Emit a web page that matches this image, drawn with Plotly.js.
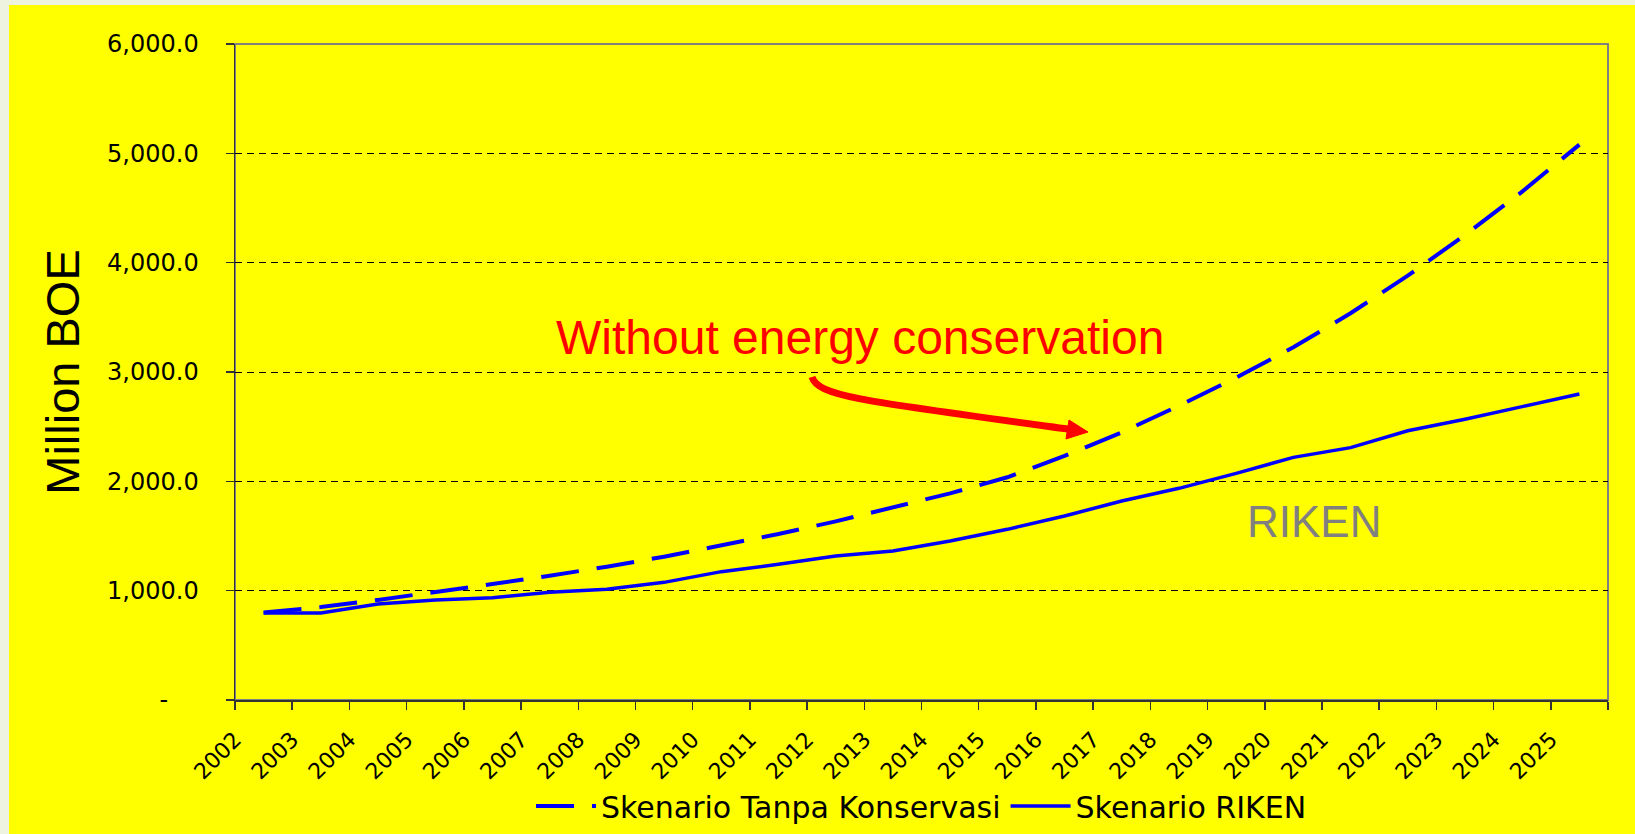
<!DOCTYPE html>
<html>
<head>
<meta charset="utf-8">
<script src="https://cdn.plot.ly/plotly-3.0.1.min.js"></script>
<style>
html,body{margin:0;padding:0;background:#eef3df;}
#chart{width:1635px;height:834px;}
</style>
</head>
<body>
<div id="chart"></div>
<script>
// ---- data ----
const years = [2002,2003,2004,2005,2006,2007,2008,2009,2010,2011,2012,2013,2014,2015,2016,2017,2018,2019,2020,2021,2022,2023,2024,2025];
const tanpaKonservasi = [800,850,915,985,1061,1137,1219,1311,1415,1518,1634,1759,1890,2037,2232,2448,2692,2948,3226,3537,3881,4253,4650,5080];
const riken = [796,796,878,915,936,985,1012,1076,1174,1241,1317,1363,1454,1561,1683,1820,1936,2073,2219,2308,2463,2567,2683,2799];
const seriesNames = ['Skenario Tanpa Konservasi','Skenario RIKEN'];
const yTickVals = [0,1000,2000,3000,4000,5000,6000];
const yTickText = ['-\u00a0\u00a0\u00a0\u00a0','1,000.0','2,000.0','3,000.0','4,000.0','5,000.0','6,000.0'];
const xTickLabels = years.map(String);

// ---- layout helpers (pixel -> paper) ----
const W = 1635, H = 834, ML = 235, MR = 27, MT = 44, MB = 134;
const PW = W - ML - MR, PH = H - MT - MB;
const px = X => (X - ML) / PW;
const py = Y => (H - MB - Y) / PH;

// tick positions at category boundaries
const xTickVals = years.map(y => y - 0.5).concat([years[years.length-1] + 0.5]);
const xTickText = xTickLabels.concat(['']);

const traces = [
  {x: years, y: tanpaKonservasi, name: seriesNames[0], type: 'scatter', mode: 'lines',
   line: {color: '#0000ff', width: 4, dash: '38px,18px'}},
  {x: years, y: riken, name: seriesNames[1], type: 'scatter', mode: 'lines',
   line: {color: '#0000ff', width: 3.5}}
];

// curved arrow
const p = (X, Y) => px(X).toFixed(5) + ',' + py(Y).toFixed(5);
const arrowPath = 'M ' + p(812, 377) + ' C ' + p(818, 396) + ' ' + p(860, 401) + ' ' + p(1068, 429);
const headPath = 'M ' + p(1088, 432) + ' L ' + p(1066, 439) + ' L ' + p(1069, 420) + ' Z';

const layout = {
  width: W, height: H,
  margin: {l: ML, r: MR, t: MT, b: MB, pad: 0, autoexpand: false},
  paper_bgcolor: '#eef3df',
  plot_bgcolor: '#ffff00',
  showlegend: true,
  font: {family: 'DejaVu Sans, Arial, sans-serif', color: '#000'},
  xaxis: {
    type: 'linear', range: [years[0] - 0.5, years[years.length-1] + 0.5],
    tickmode: 'array', tickvals: xTickVals, ticktext: xTickText,
    tickangle: -45, tickfont: {family: 'DejaVu Sans', size: 22, color: '#000'},
    ticks: 'outside', ticklen: 8, tickcolor: '#333', tickwidth: 1.5,
    showline: true, linecolor: '#333', linewidth: 2,
    showgrid: false, zeroline: false, ticklabelstandoff: 8, automargin: false
  },
  yaxis: {
    range: [0, 6000], tickmode: 'array', tickvals: yTickVals, ticktext: yTickText,
    tickfont: {family: 'DejaVu Sans', size: 24, color: '#000'},
    ticks: 'outside', ticklen: 8, tickcolor: '#333', tickwidth: 1.5,
    showline: true, linecolor: '#333', linewidth: 1.5,
    showgrid: true, gridcolor: '#000', gridwidth: 1, griddash: '7px,5px',
    zeroline: false, ticklabelstandoff: 22, automargin: false,
    title: {text: 'Million BOE\u00a0\u00a0\u00a0', font: {family: 'Liberation Sans, Arial', size: 47, color: '#000'}, standoff: 12}
  },
  legend: {
    orientation: 'h', x: 0.5, xanchor: 'center', y: py(806), yanchor: 'middle',
    bgcolor: 'rgba(0,0,0,0)', font: {family: 'DejaVu Sans', size: 30, color: '#000'},
    itemwidth: 60, tracegroupgap: 0
  },
  shapes: [
    {type: 'rect', xref: 'paper', yref: 'paper', x0: px(9), x1: px(W + 5), y0: py(H + 5), y1: py(5),
     fillcolor: '#ffff00', line: {width: 0}, layer: 'below'},
    {type: 'rect', xref: 'paper', yref: 'paper', x0: 0, x1: 1, y0: 0, y1: 1,
     fillcolor: 'rgba(0,0,0,0)', line: {color: '#808080', width: 2}, layer: 'below'},
    {type: 'path', xref: 'paper', yref: 'paper', path: arrowPath,
     line: {color: '#ff0000', width: 7}, layer: 'above'},
    {type: 'path', xref: 'paper', yref: 'paper', path: headPath,
     fillcolor: '#ff0000', line: {color: '#ff0000', width: 1}, layer: 'above'}
  ],
  annotations: [
    {xref: 'paper', yref: 'paper', x: px(860), y: py(337), xanchor: 'center', yanchor: 'middle',
     text: 'Without energy conservation', showarrow: false,
     font: {family: 'Liberation Sans, Arial', size: 48, color: '#ff0000'}},
    {xref: 'paper', yref: 'paper', x: px(1245), y: py(521), xanchor: 'left', yanchor: 'middle',
     text: 'RIKEN', showarrow: false,
     font: {family: 'Liberation Sans, Arial', size: 44, color: '#808080'}}
  ]
};

Plotly.newPlot('chart', traces, layout, {staticPlot: true, displayModeBar: false});
</script>
</body>
</html>
